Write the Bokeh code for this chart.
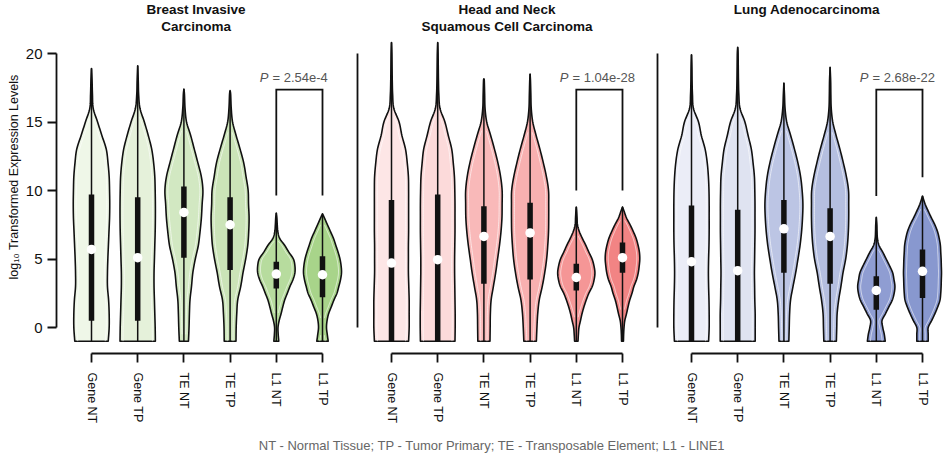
import numpy as np
from bokeh.plotting import figure
from bokeh.models import Range1d, FixedTicker, Title
from bokeh.layouts import row, column
from bokeh.core.properties import value
from bokeh.embed import file_html
from bokeh.resources import INLINE

# ---------------- data ----------------
categories = ["Gene NT", "Gene TP", "TE NT", "TE TP", "L1 NT", "L1 TP"]
panel_titles = [["Breast Invasive", "Carcinoma"],
                ["Head and Neck", "Squamous Cell Carcinoma"],
                ["Lung Adenocarcinoma"]]
p_values = ["2.54e-4", "1.04e-28", "2.68e-22"]
y_label = "log\u2081\u2080 Transformed Expression Levels"
footer_text = "NT - Normal Tissue; TP - Tumor Primary; TE - Transposable Element; L1 - LINE1"
y_ticks = [0, 5, 10, 15, 20]

half = [-1, -0.5, 0, 0.5, 1, 1.5, 2, 2.5, 3, 3.5, 4, 4.5, 5, 5.5, 6, 6.5, 7, 7.5, 8, 8.5, 9]

# Breast Invasive Carcinoma (BRCA)
brca_levels = [
    list(range(-1, 19)) + [18.9],
    list(range(-1, 19)) + [19.1],
    list(range(-1, 18)) + [17.4],
    list(range(-1, 18)) + [17.3],
    half[:19] + [8.35],
    half[:19] + [8.3],
]
brca_widths = [
    [.88, .93, .93, .90, .84, .84, .86, .89, .92, .95, .96, .95, .93, .87, .78, .55, .32, .09, .05, .03, 0],
    [.93, .92, .90, .88, .86, .86, .88, .90, .92, .93, .93, .92, .90, .84, .74, .56, .35, .12, .05, .03, 0],
    [.24, .27, .29, .32, .40, .47, .60, .76, .85, .92, .96, 1.0, .92, .74, .55, .36, .14, .06, .03, 0],
    [.31, .32, .35, .40, .56, .68, .82, .93, .98, 1.0, .97, .95, .84, .72, .53, .32, .13, .06, .03, 0],
    [.13, .10, .09, .15, .25, .34, .44, .58, .72, .88, .98, .98, .90, .66, .44, .18, .08, .05, .03, 0],
    [.30, .25, .21, .24, .32, .46, .60, .76, .86, .95, 1.0, .98, .92, .82, .70, .58, .42, .26, .10, 0],
]
brca_top = [18.9, 19.1, 17.4, 17.3, 8.35, 8.3]
brca_q3 = [9.7, 9.5, 10.3, 9.5, 4.8, 5.2]
brca_median = [5.7, 5.1, 8.4, 7.5, 3.9, 3.85]
brca_q1 = [0.5, 0.5, 5.1, 4.2, 2.85, 2.2]
brca_colors = ["#eff7e8", "#e5f1da", "#d2e8c2", "#cbe4b8", "#b7dc9e", "#a8d48a"]

# Head and Neck Squamous Cell Carcinoma (HNSC)
hnsc_levels = [
    list(range(-1, 21)) + [20.8],
    list(range(-1, 21)) + [20.8],
    list(range(-1, 19)) + [18.15],
    list(range(-1, 19)) + [18.5],
    half[:20] + [8.8],
    half[:20] + [8.8],
]
hnsc_widths = [
    [.90, .93, .93, .93, .91, .89, .89, .89, .90, .90, .90, .90, .89, .83, .74, .55, .40, .12, .06, .04, .03, .02, 0],
    [.91, .92, .92, .91, .90, .89, .89, .90, .91, .91, .91, .90, .88, .82, .74, .56, .38, .12, .06, .04, .03, .02, 0],
    [.32, .33, .34, .38, .50, .62, .72, .82, .90, .95, .96, .96, .88, .74, .56, .36, .15, .06, .04, .02, 0],
    [.33, .36, .40, .48, .64, .77, .87, .93, .97, .98, .98, .97, .86, .70, .52, .32, .14, .06, .04, .02, 0],
    [.09, .11, .14, .22, .30, .40, .52, .66, .84, .94, .98, .93, .83, .66, .50, .32, .16, .06, .04, .02, 0],
    [.05, .06, .08, .12, .21, .29, .38, .50, .60, .74, .83, .88, .91, .89, .82, .72, .57, .40, .21, .08, 0],
]
hnsc_top = [20.8, 20.8, 18.15, 18.5, 8.8, 8.8]
hnsc_q3 = [9.3, 9.7, 8.85, 9.1, 4.65, 6.2]
hnsc_median = [4.7, 4.95, 6.65, 6.9, 3.65, 5.1]
hnsc_q1 = [-1, -1, 3.2, 3.5, 2.7, 4.0]
hnsc_colors = ["#fde6e6", "#fcdada", "#f9b9b9", "#f8b0b0", "#f59696", "#f28484"]

# Lung Adenocarcinoma (LUAD)
luad_levels = [
    list(range(-1, 20)) + [19.9],
    list(range(-1, 21)) + [20.45],
    list(range(-1, 18)) + [17.85],
    list(range(-1, 19)) + [19.0],
    half[:18] + [8.05],
    half[:21] + [9.6],
]
luad_widths = [
    [.90, .93, .93, .92, .90, .89, .90, .92, .93, .93, .93, .92, .89, .83, .72, .52, .37, .10, .05, .03, .02, 0],
    [.92, .92, .92, .90, .89, .88, .89, .90, .91, .91, .91, .90, .88, .81, .72, .55, .38, .12, .06, .04, .03, .02, 0],
    [.26, .28, .30, .35, .48, .62, .74, .85, .93, .98, 1.0, .96, .88, .74, .56, .36, .15, .06, .03, 0],
    [.33, .35, .37, .45, .57, .68, .82, .91, .96, .98, .98, .97, .86, .70, .52, .32, .14, .06, .04, .03, 0],
    [.47, .42, .34, .30, .48, .66, .84, .94, .98, .93, .86, .70, .52, .34, .14, .06, .04, .03, 0],
    [.30, .30, .30, .48, .65, .80, .92, .96, .98, .99, 1.0, .99, .98, .96, .94, .88, .79, .65, .47, .30, .14, 0],
]
luad_top = [19.9, 20.45, 17.85, 19.0, 8.05, 9.6]
luad_q3 = [8.9, 8.6, 9.3, 8.7, 3.75, 5.7]
luad_median = [4.8, 4.15, 7.2, 6.65, 2.7, 4.1]
luad_q1 = [-1, -1, 4.0, 3.2, 1.3, 2.15]
luad_colors = ["#ebedf7", "#dfe3f1", "#bcc5e4", "#b5bfe0", "#8f9dd2", "#8898cf"]

data_floor = -1.0
bracket_top = 17.37
bracket_left_end = [9.63, 10.0, 9.6]
bracket_right_end = [9.63, 10.0, 10.97]

# ---------------- drawing ----------------
FONT = "Liberation Sans"
PX_PER_CAT = 46.2
PX_PER_UNIT = 13.7
HALF_W = 19.0 / PX_PER_CAT
FRAME_H = 353
BOTTOM = 80
FIG_H = FRAME_H + BOTTOM
Y0 = -26.0 / PX_PER_UNIT
Y1 = Y0 + FRAME_H / PX_PER_UNIT


def smooth(ys, ws, n=8):
    P = np.column_stack([ys, ws]).astype(float)
    P = np.vstack([2 * P[0] - P[1], P, 2 * P[-1] - P[-2]])
    out = []
    for i in range(1, len(P) - 2):
        p0, p1, p2, p3 = P[i - 1], P[i], P[i + 1], P[i + 2]
        for t in np.linspace(0, 1, n, endpoint=False):
            t2, t3 = t * t, t * t * t
            out.append(0.5 * (2 * p1 + (-p0 + p2) * t + (2 * p0 - 5 * p1 + 4 * p2 - p3) * t2
                              + (-p0 + 3 * p1 - 3 * p2 + p3) * t3))
    out.append(P[-2])
    out = np.array(out)
    return out[:, 0], np.clip(out[:, 1], 0, None)


def make_panel(idx, width, border_left, first_offset, levels, widths, top, q3, med, q1, colors, show_y):
    x0 = -first_offset / PX_PER_CAT
    x1 = x0 + (width - border_left) / PX_PER_CAT
    p = figure(width=width, height=FIG_H, x_range=Range1d(x0, x1), y_range=Range1d(Y0, Y1),
               output_backend="svg", toolbar_location=None,
               min_border_left=border_left, min_border_right=0, min_border_top=0,
               min_border_bottom=BOTTOM)
    p.outline_line_color = None
    p.grid.visible = False
    p.background_fill_color = "white"
    p.border_fill_color = "white"

    # x axis
    xa = p.xaxis[0]
    xa.ticker = FixedTicker(ticks=list(range(len(categories))))
    xa.major_label_overrides = {i: c for i, c in enumerate(categories)}
    xa.bounds = (0, len(categories) - 1)
    xa.major_tick_out = 9
    xa.major_tick_in = 0
    xa.minor_tick_out = 0
    xa.minor_tick_in = 0
    xa.axis_line_width = 1.8
    xa.major_tick_line_width = 1.8
    xa.axis_line_color = "#111111"
    xa.major_tick_line_color = "#111111"
    xa.major_label_orientation = "vertical"
    xa.major_label_standoff = 10
    xa.major_label_text_font = FONT
    xa.major_label_text_font_size = "12.5px"
    xa.major_label_text_color = "#111111"

    # y axis
    ya = p.yaxis[0]
    ya.bounds = (0, 20)
    ya.axis_line_width = 1.8
    ya.axis_line_color = "#111111"
    ya.minor_tick_out = 0
    ya.minor_tick_in = 0
    if show_y:
        ya.ticker = FixedTicker(ticks=y_ticks)
        ya.major_tick_out = 9
        ya.major_tick_in = 0
        ya.major_tick_line_width = 1.8
        ya.major_tick_line_color = "#111111"
        ya.major_label_standoff = 5
        ya.major_label_text_font = FONT
        ya.major_label_text_font_size = "15px"
        ya.major_label_text_color = "#111111"
        # axis title, centred on the 0-20 span of the axis
        p.add_layout(Title(text=y_label, align="center", offset=-10.5, standoff=3,
                           text_font=FONT, text_font_size="12.5px", text_font_style="normal",
                           text_color="#111111"), "left")
    else:
        ya.ticker = FixedTicker(ticks=[])
        ya.major_tick_out = 0
        ya.major_tick_in = 0
        ya.major_label_text_font_size = "0px"

    inset = 3.0 / PX_PER_CAT
    for i in range(len(categories)):
        ys, ws = smooth(levels[i], widths[i])
        hw = ws * HALF_W
        xs_poly = np.concatenate([i + hw, (i - hw)[::-1]])
        ys_poly = np.concatenate([ys, ys[::-1]])
        p.patch(xs_poly, ys_poly, fill_color=colors[i], line_color="#111111", line_width=1.6,
                line_join="round")
        inner = hw - inset
        mask = inner > 0.04
        xr = np.where(mask, i + inner, np.nan)
        xl = np.where(mask, i - inner, np.nan)
        yy = np.where(mask, ys, np.nan)
        p.line(xr, yy, line_color="white", line_alpha=0.6, line_width=1.0)
        p.line(xl, yy, line_color="white", line_alpha=0.6, line_width=1.0)

    xs_c = list(range(len(categories)))
    p.segment(x0=xs_c, y0=[data_floor] * len(xs_c), x1=xs_c, y1=top, line_color="#111111", line_width=1.5)
    p.segment(x0=xs_c, y0=q1, x1=xs_c, y1=q3, line_color="#111111", line_width=5.5, line_cap="butt")
    p.scatter(xs_c, med, size=9.5, fill_color="white", line_color=None, marker="circle")

    # significance bracket
    p.line([4, 4, 5, 5], [bracket_left_end[idx], bracket_top, bracket_top, bracket_right_end[idx]],
           line_color="#111111", line_width=1.8, line_join="miter")
    p.text(x=[3.83], y=[18.27], text=["P"], text_font=value(FONT), text_font_style="italic",
           text_font_size="13px", text_color="#555555", text_align="right", text_baseline="alphabetic")
    p.text(x=[3.83], y=[18.27], text=["= " + p_values[idx]], text_font=value(FONT),
           text_font_size="13px", text_color="#555555", text_align="left", text_baseline="alphabetic",
           x_offset=4)

    # panel title
    title_x = 2.264 if idx == 0 else 2.5
    title_y = [23.21, 21.97]
    for k, line in enumerate(panel_titles[idx]):
        p.text(x=[title_x], y=[title_y[k]], text=[line], text_font=value(FONT), text_font_style="bold",
               text_font_size="13.5px", text_color="#111111", text_align="center", text_baseline="middle")
    return p


p1 = make_panel(0, 345, 56, 35, brca_levels, brca_widths, brca_top, brca_q3, brca_median, brca_q1,
                brca_colors, True)
p2 = make_panel(1, 300, 12, 34, hnsc_levels, hnsc_widths, hnsc_top, hnsc_q3, hnsc_median, hnsc_q1,
                hnsc_colors, False)
p3 = make_panel(2, 300, 12, 34, luad_levels, luad_widths, luad_top, luad_q3, luad_median, luad_q1,
                luad_colors, False)

FOOT_H = 456 - FIG_H
foot = figure(width=945, height=FOOT_H, x_range=Range1d(0, 945), y_range=Range1d(0, FOOT_H),
              x_axis_type=None, y_axis_type=None, output_backend="svg", toolbar_location=None,
              min_border_left=0, min_border_right=0, min_border_top=0, min_border_bottom=0)
foot.outline_line_color = None
foot.grid.visible = False
foot.text(x=[492], y=[FOOT_H - (445 - FIG_H)], text=[footer_text], text_font=value(FONT),
          text_font_size="13px", text_color="#666666", text_align="center", text_baseline="middle")

layout = column(row(p1, p2, p3), foot)
open("out.html", "w").write(file_html(layout, INLINE))
